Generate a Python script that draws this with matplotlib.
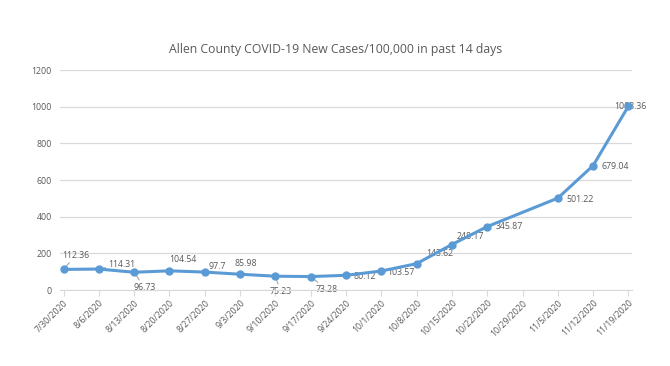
import numpy as np
import matplotlib
matplotlib.use('Agg')
import matplotlib.pyplot as plt

dates = ['7/30/2020', '8/6/2020', '8/13/2020', '8/20/2020', '8/27/2020', '9/3/2020',
         '9/10/2020', '9/17/2020', '9/24/2020', '10/1/2020', '10/8/2020', '10/15/2020',
         '10/22/2020', '10/29/2020', '11/5/2020', '11/12/2020', '11/19/2020']
cases = [112.36, 114.31, 96.73, 104.54, 97.7, 85.98, 75.23, 73.28, 80.12, 103.57,
         143.62, 248.17, 345.87, np.nan, 501.22, 679.04, 1003.36]
y_ticks = [0, 200, 400, 600, 800, 1000, 1200]

# label offsets (pixels) and whether there is a leader line
label_pos = [(12, 14, True), (23, 5, True), (10, -15, True), (13, 11, False), (12, 6, False),
             (6, 11, False), (5, -15, True), (16, -13, True), (19, -1, False), (20, -1, False),
             (23, 10, False), (18, 8, False), (22, 0, False), (0, 0, False), (22, -1, False),
             (22, -1, False), (2, 0, False)]

line_col = '#5B9BD5'
txt_col = '#595959'
grid_col = '#D9D9D9'
plt.rcParams['font.family'] = ['Open Sans', 'DejaVu Sans']

fig = plt.figure(figsize=(6.7, 3.66), dpi=100)
ax = fig.add_axes([60/670, 1-290/366, 572/670, 220/366])

x = np.arange(len(dates))
y = np.array(cases)
ok = ~np.isnan(y)
ax.plot(x[ok], y[ok], color=line_col, lw=2.2, marker='o', ms=5, zorder=3)

for i in range(len(dates)):
    if not ok[i]:
        continue
    dx, dy, lead = label_pos[i]
    ap = None
    if lead:
        ap = dict(arrowstyle='-', color='#A6A6A6', lw=0.8, shrinkA=0, shrinkB=0)
    ax.annotate(f'{cases[i]:g}', (x[i], y[i]), xytext=(dx, dy),
                textcoords='offset pixels', ha='center', va='center',
                fontsize=6.3, color=txt_col, arrowprops=ap, zorder=2)

ax.set_xlim(-0.1, len(dates) - 0.9)
ax.set_ylim(0, 1200)
ax.set_yticks(y_ticks)
ax.set_xticks(x)
ax.set_xticklabels(dates, rotation=45, ha='right', rotation_mode='anchor')
ax.grid(axis='y', color=grid_col, lw=0.9)
ax.set_axisbelow(True)
for s in ['top', 'right', 'left']:
    ax.spines[s].set_visible(False)
ax.spines['bottom'].set_color(grid_col)
ax.tick_params(axis='y', length=0, pad=6, labelsize=6.3, labelcolor=txt_col)
ax.tick_params(axis='x', length=4, color=grid_col, pad=2, labelsize=6.3, labelcolor=txt_col)

fig.text(336/670, 1 - 49/366, 'Allen County COVID-19 New Cases/100,000 in past 14 days',
         ha='center', va='center', fontsize=8.8, color=txt_col)

fig.savefig('out.png', dpi=100, facecolor='white')
